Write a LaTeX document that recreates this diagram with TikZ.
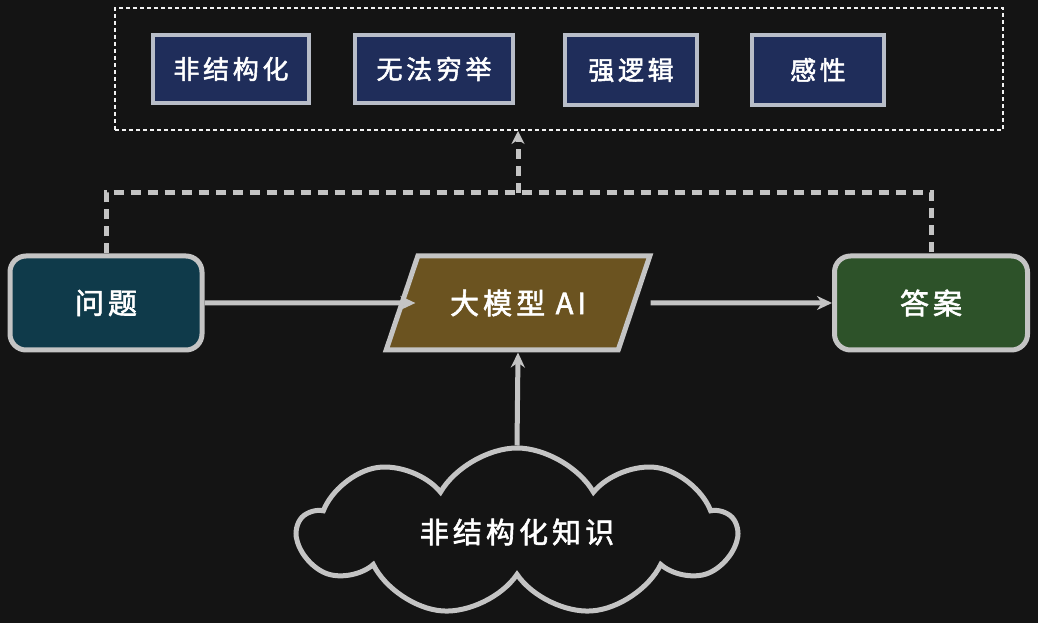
\documentclass[tikz,border=0pt]{standalone}
\usepackage{fontspec}
\newfontfamily\cjk[LetterSpace=14,FakeBold=2]{Noto Sans CJK SC}
\usetikzlibrary{shapes.geometric,shapes.symbols,arrows.meta}
\definecolor{bg}{HTML}{141414}
\definecolor{edge}{HTML}{C4C4C4}
\definecolor{navy}{HTML}{1F2D5A}
\definecolor{teal}{HTML}{0F3A4A}
\definecolor{brown}{HTML}{6B5320}
\definecolor{green}{HTML}{2D5229}
\definecolor{tagedge}{HTML}{B8BDC8}
\tikzset{
  tag/.style={draw=tagedge,line width=3.5pt,fill=navy,text=white,font=\cjk\fontsize{26}{30}\selectfont,minimum height=68pt},
  mainbox/.style={draw=edge,line width=5pt,rounded corners=16pt,text=white,font=\cjk\fontsize{29}{34}\selectfont,minimum width=192pt,minimum height=94pt},
  arr/.style={draw=edge,line width=5pt,-{Stealth[length=15pt,width=14pt]}},
  dashline/.style={draw=edge,line width=5pt,dash pattern=on 10pt off 7pt},
}
\begin{document}
\begin{tikzpicture}[x=1pt,y=1pt]
\fill[bg] (0,0) rectangle (1038,623);
\useasboundingbox (0,0) rectangle (1038,623);
\node[draw=white!90!gray,line width=2pt,dash pattern=on 4pt off 3pt,minimum width=888pt,minimum height=122pt] (outer) at (559,554) {};
\node[tag,minimum width=156pt] (t1) at (231,554) {非结构化};
\node[tag,minimum width=158pt] (t2) at (434,554) {无法穷举};
\node[tag,minimum width=132pt,minimum height=70pt] (t3) at (631,553) {强逻辑};
\node[tag,minimum width=132pt,minimum height=70pt] (t4) at (818,553) {感性};
\node[mainbox,fill=teal] (q) at (106,320) {问题};
\node[mainbox,fill=green,minimum width=193pt] (ans) at (931,320) {答案};
\node[draw=edge,line width=5pt,fill=brown,text=white,font=\cjk\fontsize{29}{34}\selectfont,trapezium,trapezium left angle=56,trapezium right angle=124,trapezium stretches=true,minimum width=264pt,minimum height=94pt] (llm) at (518,320) {大模型 AI};
\node[draw=edge,line width=5pt,cloud,cloud puffs=9,cloud puff arc=120,aspect=2.6,minimum width=437pt,minimum height=168pt,text=white,font=\cjk\fontsize{29}{34}\selectfont] (kb) at (517,91) {非结构化知识};
\coordinate (j) at (518,430);
\coordinate (o) at ([xshift=14pt]llm.east);
\coordinate (i) at ([xshift=16pt]llm.west);
\draw[arr] (q.east) -- (i);
\draw[arr] (o) -- (ans.west);
\draw[arr] (kb.north) -- (llm.south);
\draw[dashline] (q.north) |- (j) -| (ans.north);
\draw[dashline,-{Stealth[length=13pt,width=13pt]}] (j) -- (j |- outer.south);
\end{tikzpicture}
\end{document}
